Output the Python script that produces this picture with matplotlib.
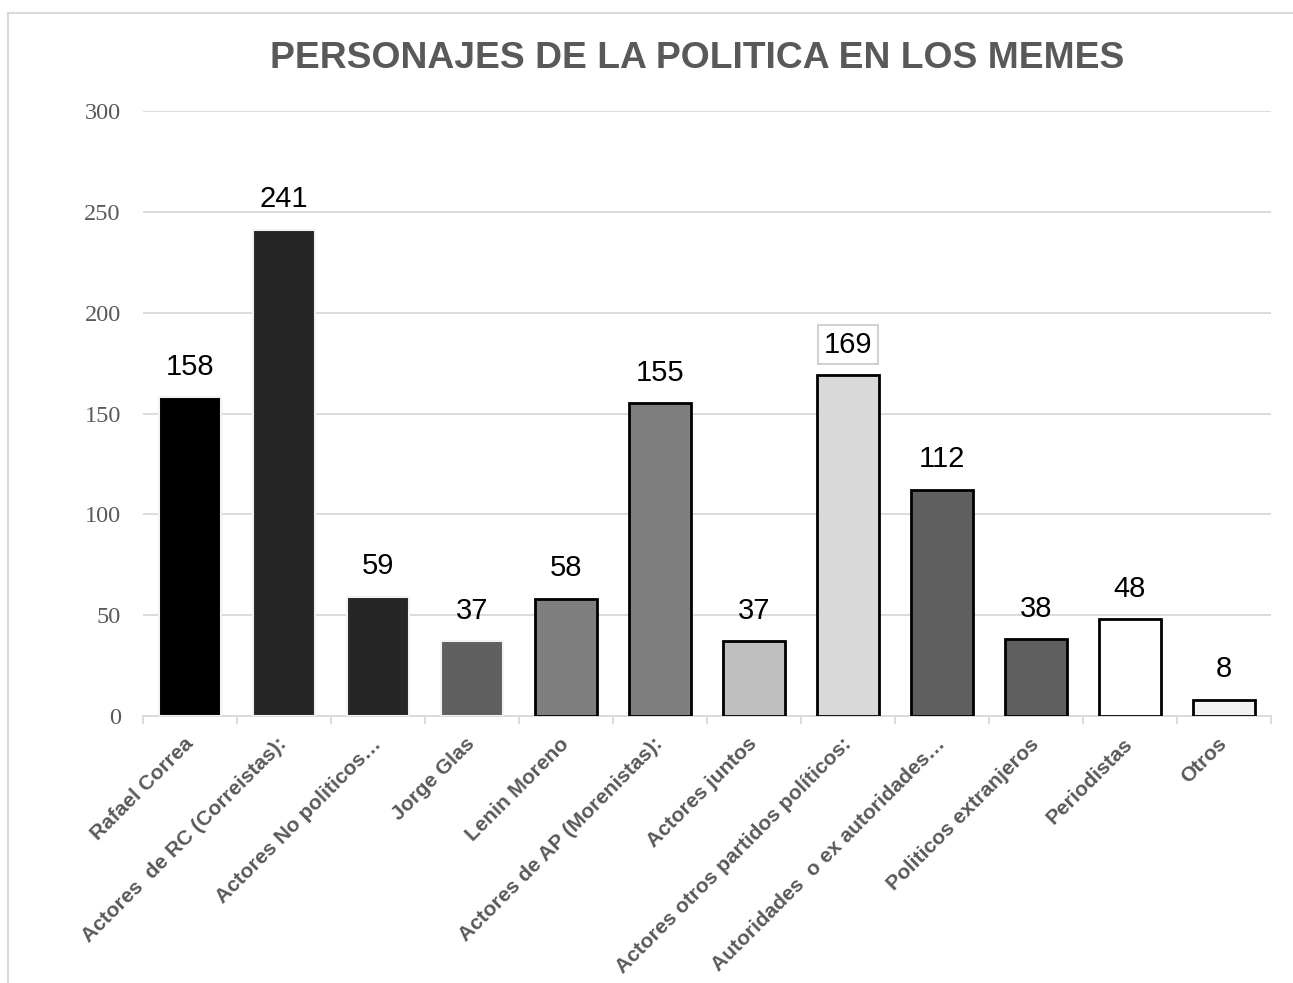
import matplotlib
matplotlib.use("Agg")
import matplotlib.pyplot as plt
from matplotlib.lines import Line2D

categories = [
    "Rafael Correa",
    "Actores  de RC (Correistas):",
    "Actores No politicos…",
    "Jorge Glas",
    "Lenin Moreno",
    "Actores de AP (Morenistas):",
    "Actores juntos",
    "Actores otros partidos políticos:",
    "Autoridades  o ex autoridades…",
    "Politicos extranjeros",
    "Periodistas",
    "Otros",
]
values = [158, 241, 59, 37, 58, 155, 37, 169, 112, 38, 48, 8]
fills = ["#000000", "#262626", "#262626", "#5f5f5f", "#7f7f7f", "#7f7f7f",
         "#bfbfbf", "#d9d9d9", "#5f5f5f", "#5f5f5f", "#ffffff", "#f2f2f2"]
edges = ["#f2f2f2", "#f2f2f2", "#f2f2f2", "#f2f2f2", "#000000", "#000000",
         "#000000", "#000000", "#000000", "#000000", "#000000", "#000000"]
yticks = [0, 50, 100, 150, 200, 250, 300]
title = "PERSONAJES DE LA POLITICA EN LOS MEMES"

W, H = 1293, 983
fig = plt.figure(figsize=(W / 100, H / 100), dpi=100)
ax = fig.add_axes([143 / W, 1 - 716 / H, (1271 - 143) / W, (716 - 111) / H])

x = list(range(len(categories)))
for xi, v, fc, ec in zip(x, values, fills, edges):
    lw = 2.0 if ec == "#000000" else 1.5
    ax.bar(xi, v, width=0.655, color=fc, edgecolor=ec, linewidth=lw, zorder=3)

for xi, v in zip(x, values):
    kw = {}
    if v == 169:
        kw["bbox"] = dict(boxstyle="square,pad=0.2", fc="white", ec="#c8c8c8", lw=1.2)
    ax.annotate(str(v), (xi, v), xytext=(0, 12), textcoords="offset points",
                ha="center", va="bottom", fontsize=21, color="black",
                family="Liberation Sans", zorder=4, **kw)

ax.set_xlim(-0.5, len(categories) - 0.5)
ax.set_ylim(0, 300)
ax.set_yticks(yticks)
ax.set_yticklabels([str(t) for t in yticks], family="Liberation Serif",
                   fontsize=17.5, color="#595959")
ax.tick_params(axis="y", length=0, pad=16)
ax.grid(axis="y", color="#d9d9d9", linewidth=1.3, zorder=0)
ax.set_axisbelow(True)

# category ticks sit at the boundaries between bars
ax.set_xticks([i - 0.5 for i in range(len(categories) + 1)], minor=True)
ax.tick_params(axis="x", which="minor", length=6, color="#d9d9d9", width=1.3)
ax.set_xticks(x)
ax.tick_params(axis="x", which="major", length=0, pad=18)
ax.set_xticklabels(categories, rotation=45, ha="right", va="center",
                   rotation_mode="anchor", family="Liberation Sans",
                   fontweight="bold", fontsize=15, color="#595959")

for side in ["top", "right", "left"]:
    ax.spines[side].set_visible(False)
ax.spines["bottom"].set_color("#d9d9d9")
ax.spines["bottom"].set_linewidth(1.3)

fig.text(697 / W, 1 - 58 / H, title, ha="center", va="center",
         fontsize=26.8, fontweight="bold", color="#595959", family="Liberation Sans")

# chart frame (left and top edges)
fig.add_artist(Line2D([8 / W, 8 / W], [0, 1 - 13 / H], transform=fig.transFigure,
                      color="#d9d9d9", linewidth=1.5))
fig.add_artist(Line2D([8 / W, 1], [1 - 13 / H, 1 - 13 / H], transform=fig.transFigure,
                      color="#d9d9d9", linewidth=1.5))

fig.savefig("out.png", dpi=100, facecolor="white")
